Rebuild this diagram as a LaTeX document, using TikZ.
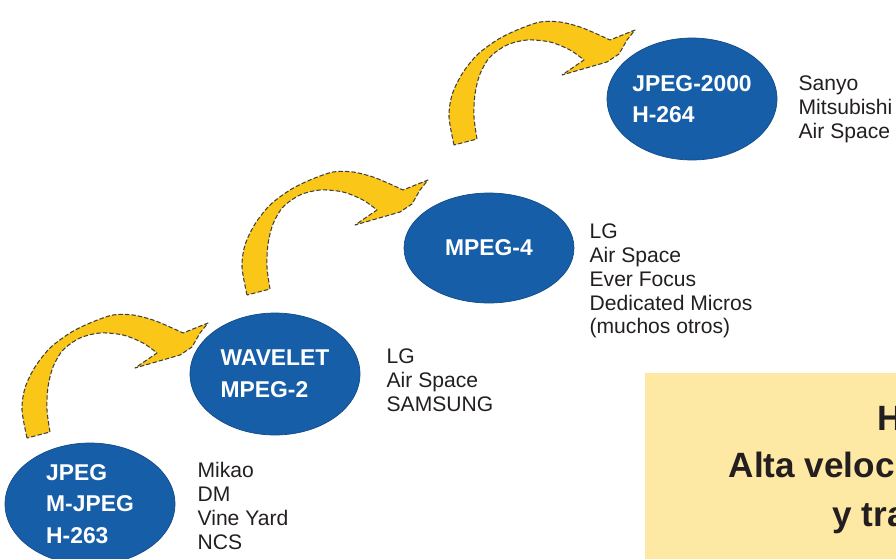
\documentclass[tikz,border=0pt]{standalone}
\usepackage{fontspec}
\setmainfont{Liberation Sans}
\usetikzlibrary{shapes.geometric}
\definecolor{codecblue}{RGB}{22,94,168}
\definecolor{arrowyellow}{RGB}{250,198,24}
\definecolor{notegold}{RGB}{253,233,164}
\definecolor{inkgray}{RGB}{35,31,32}
\tikzset{every picture/.style={line width=0.75pt}}
\tikzset{
    band/.style={fill=arrowyellow, draw=black!75, dash pattern=on 2.5pt off 1.2pt, line width=0.6pt, line join=round},
    bendarrow/.pic={
        \draw[band] plot[smooth] coordinates {(0,0) (-5,-28) (-2,-50) (8,-71) (23,-90) (43,-105) (63,-115) (86,-123) (106,-123) (126,-118) (143,-111) (156,-105)}
            -- (181,-115) -- (173,-105) -- (165,-91) -- (153,-83) -- (108,-70) -- (130,-85)
            -- plot[smooth] coordinates {(130,-85) (116,-95) (96,-103) (73,-105) (53,-100) (36,-88) (26,-71) (21,-51) (20,-28) (23,-6)}
            -- cycle;
    }
}

\begin{document}
\begin{tikzpicture}[x=0.02cm,y=-0.02cm,
        codec/.style={ellipse, fill=codecblue, draw=codecblue!80!black, line width=0.4pt, minimum width=3.4cm, minimum height=2.44cm, inner sep=0pt, text=white, align=left, font=\fontsize{13}{18}\selectfont\bfseries},
        brands/.style={anchor=north west, inner sep=0pt, align=left, text=inkgray, font=\fontsize{12}{13.6}\selectfont},
        headline/.style={anchor=base west, inner sep=0pt, text=inkgray, font=\fontsize{20}{24}\selectfont\bfseries}]
    \useasboundingbox (0,0) rectangle (896,558);
    \clip (0,0) rectangle (896,558);
    % curved arrows
    \pic at (27,438) {bendarrow};
    \pic at (247,295) {bendarrow};
    \pic at (454,145) {bendarrow};
    % codecs
    \node[codec] (jpeg) at (90,504) {JPEG\\M-JPEG\\H-263};
    \node[codec] (wavelet) at (275,374) {WAVELET\\MPEG-2};
    \node[codec, minimum height=2.2cm] (mpeg) at (489,248) {MPEG-4};
    \node[codec] (jpegtwo) at (692,99) {JPEG-2000\\H-264};
    % makers
    \node[brands] (jpegbrands) at (197,462) {Mikao\\DM\\Vine Yard\\NCS};
    \node[brands] (waveletbrands) at (386,348) {LG\\Air Space\\SAMSUNG};
    \node[brands] (mpegbrands) at (589,223) {LG\\Air Space\\Ever Focus\\Dedicated Micros\\(muchos otros)};
    \node[brands] (jpegtwobrands) at (798,75) {Sanyo\\Mitsubishi\\Air Space};
    % note box
    \fill[notegold] (645,373) rectangle (900,560);
    \node[headline] (noteone) at (877,430) {H};
    \node[headline] (notetwo) at (728,477) {Alta veloc};
    \node[headline] (notethree) at (832,526) {y tra};
\end{tikzpicture}
\end{document}
